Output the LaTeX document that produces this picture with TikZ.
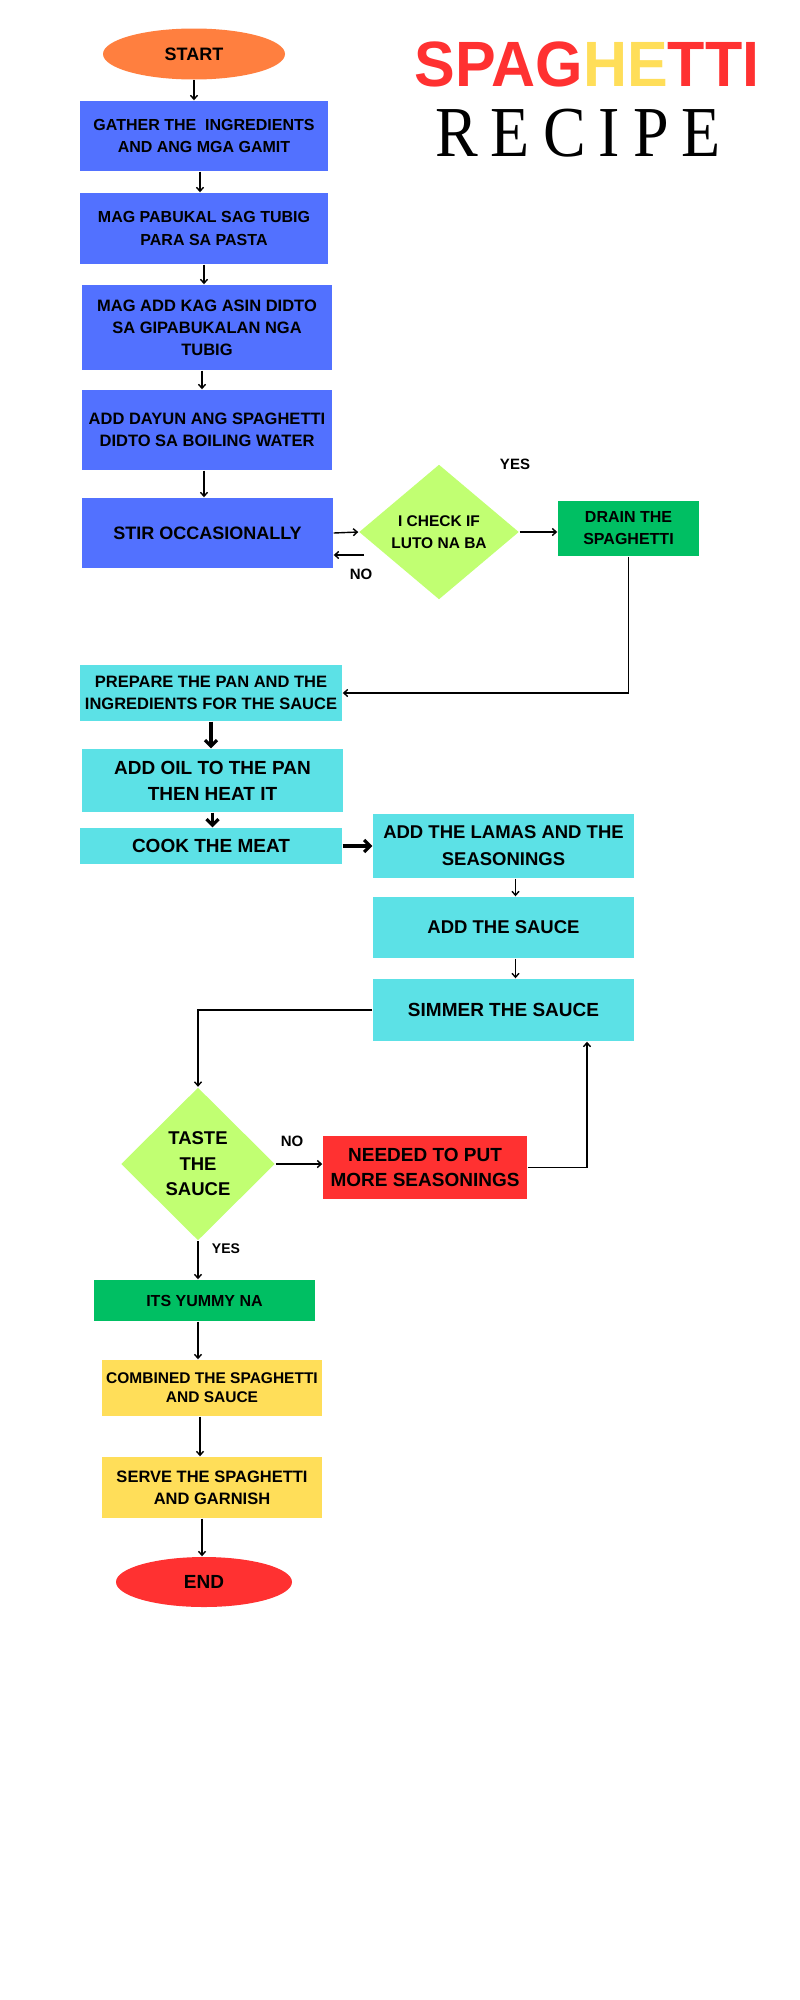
\documentclass[tikz,border=0pt]{standalone}
\usepackage{fontspec}
\setmainfont{Liberation Sans}
\newfontfamily\recipefont{Liberation Serif}
\usetikzlibrary{shapes.geometric,arrows.meta,calc}
\definecolor{orng}{HTML}{FF7F3F}
\definecolor{blu}{HTML}{5271FF}
\definecolor{grn}{HTML}{00BF63}
\definecolor{cyn}{HTML}{5CE1E6}
\definecolor{limegr}{HTML}{C1FF72}
\definecolor{rd}{HTML}{FF3131}
\definecolor{ylw}{HTML}{FFDE59}
\newcommand{\fsz}[2]{\fontsize{#1}{#2}\selectfont\bfseries}

\begin{document}
\begin{tikzpicture}[x=1pt,y=-1pt,line width=1.4pt,
          >={Straight Barb[length=4pt,width=7pt]},
          every node/.style={inner sep=0pt,align=center},
          box/.style args={#1 by #2}{rectangle,minimum width=#1pt,minimum height=#2pt},
          thk/.style={line width=3.2pt,-{Straight Barb[length=6pt,width=12pt]}}]
          \fill[white](0,0)rectangle(800,2000);
          \useasboundingbox(0,0)rectangle(800,2000);
          % title
          \node(title)at(587,64){\scalebox{1}[1.05]{\fontsize{61}{61}\selectfont\bfseries
             \textcolor{rd}{SPAG}\textcolor{ylw}{HE}\textcolor{rd}{TTI}}};
          \node(recipe)at(578,133){\scalebox{1}[1.12]{\recipefont\fontsize{64}{64}\selectfont
             R\kern13pt E\kern13pt C\kern13pt I\kern13pt P\kern13pt E}};
          % boiling the pasta
          \node[ellipse,fill=orng,minimum width=182pt,minimum height=51pt,font=\fsz{18}{22}](start)at(194,54){START};
          \node[box=248 by 70,fill=blu,font=\fsz{16}{22}](gather)at(204,136){GATHER THE \ INGREDIENTS\\AND ANG MGA GAMIT};
          \node[box=248 by 71,fill=blu,font=\fsz{16}{23}](boil)at(204,228.5){MAG PABUKAL SAG TUBIG\\PARA SA PASTA};
          \node[box=250 by 85,fill=blu,font=\fsz{16.5}{22}](salt)at(207,327.5){MAG ADD KAG ASIN DIDTO\\SA GIPABUKALAN NGA\\TUBIG};
          \node[box=250 by 80,fill=blu,font=\fsz{16.5}{22}](pasta)at(207,430){ADD DAYUN ANG SPAGHETTI\\DIDTO SA BOILING WATER};
          \node[box=251 by 70,fill=blu,font=\fsz{18}{22}](stir)at(207.5,533){STIR OCCASIONALLY};
          \node[diamond,fill=limegr,minimum width=160pt,minimum height=135pt,font=\fsz{15.5}{22}](check)at(439,532){I CHECK IF\\LUTO NA BA};
          \node[box=141 by 55,fill=grn,font=\fsz{16}{22}](drain)at(628.5,528.5){DRAIN THE\\SPAGHETTI};
          \node[font=\fsz{15}{18}](yes1)at(515,464){YES};
          \node[font=\fsz{15}{18}](no1)at(361,574){NO};
          \coordinate(chkno)at(364,555);
          % the sauce
          \node[box=262 by 56,fill=cyn,font=\fsz{16.5}{22}](prep)at(211,693){PREPARE THE PAN AND THE\\INGREDIENTS FOR THE SAUCE};
          \node[box=261 by 63,fill=cyn,font=\fsz{19}{26}](oil)at(212.5,780.5){ADD OIL TO THE PAN\\THEN HEAT IT};
          \node[box=262 by 36,fill=cyn,font=\fsz{19}{22}](cook)at(211,846){COOK THE MEAT};
          \node[box=261 by 64,fill=cyn,font=\fsz{18.5}{27}](lamas)at(503.5,846){ADD THE LAMAS AND THE\\SEASONINGS};
          \node[box=261 by 61,fill=cyn,font=\fsz{18.5}{22}](sauce)at(503.5,927.5){ADD THE SAUCE};
          \node[box=261 by 62,fill=cyn,font=\fsz{19}{22}](simmer)at(503.5,1010){SIMMER THE SAUCE};
          \node[diamond,fill=limegr,minimum width=154pt,minimum height=153pt,font=\fsz{18.5}{25.5}](taste)at(198,1164){TASTE\\THE\\SAUCE};
          \node[box=204 by 63,fill=rd,font=\fsz{19}{25.5}](more)at(425,1167.5){NEEDED TO PUT\\MORE SEASONINGS};
          \node[font=\fsz{15}{18}](no2)at(292,1141){NO};
          \node[font=\fsz{14}{18}](yes2)at(226,1249){YES};
          % serving
          \node[box=221 by 41,fill=grn,font=\fsz{16}{22}](yummy)at(204.5,1300.5){ITS YUMMY NA};
          \node[box=220 by 56,fill=ylw,font=\fsz{15.5}{19}](comb)at(212,1388){COMBINED THE SPAGHETTI\\AND SAUCE};
          \node[box=220 by 61,fill=ylw,font=\fsz{16.5}{22}](serve)at(212,1487.5){SERVE THE SPAGHETTI\\AND GARNISH};
          \node[ellipse,fill=rd,minimum width=176pt,minimum height=50pt,font=\fsz{19}{22}](end)at(204,1582){END};
          % connectors
          \draw[->](start.south)--(start.south|-gather.north);
          \draw[->]([xshift=-4pt]gather.south)--([xshift=-4pt]gather.south|-boil.north);
          \draw[->](boil.south)--(boil.south|-salt.north);
          \draw[->]([xshift=-5pt]salt.south)--([xshift=-5pt]salt.south|-pasta.north);
          \draw[->]([xshift=-3pt]pasta.south)--([xshift=-3pt]pasta.south|-stir.north);
          \draw[->](stir.east)--(check.west);
          \draw[->](chkno)--(chkno-|stir.east);
          \draw[->](check.east)--(check.east-|drain.west);
          \draw[->](drain.south)|-(prep.east);
          \draw[thk](prep.south)--(prep.south|-oil.north);
          \draw[thk](oil.south)--(oil.south|-cook.north);
          \draw[thk](cook.east)--(lamas.west);
          \draw[->]([xshift=12pt]lamas.south)--([xshift=12pt]lamas.south|-sauce.north);
          \draw[->]([xshift=12pt]sauce.south)--([xshift=12pt]sauce.south|-simmer.north);
          \draw[->](simmer.west)-|(taste.north);
          \draw[->](taste.east)--(taste.east-|more.west);
          \draw[->](more.east)-|($(simmer.south)+(83.5,0)$);
          \draw[->](taste.south)--(taste.south|-yummy.north);
          \draw[->](taste.south|-yummy.south)--(taste.south|-comb.north);
          \draw[->]([xshift=-12pt]comb.south)--([xshift=-12pt]comb.south|-serve.north);
          \draw[->]([xshift=-10pt]serve.south)--([xshift=-10pt]serve.south|-end.north);
        \end{tikzpicture}
\end{document}
